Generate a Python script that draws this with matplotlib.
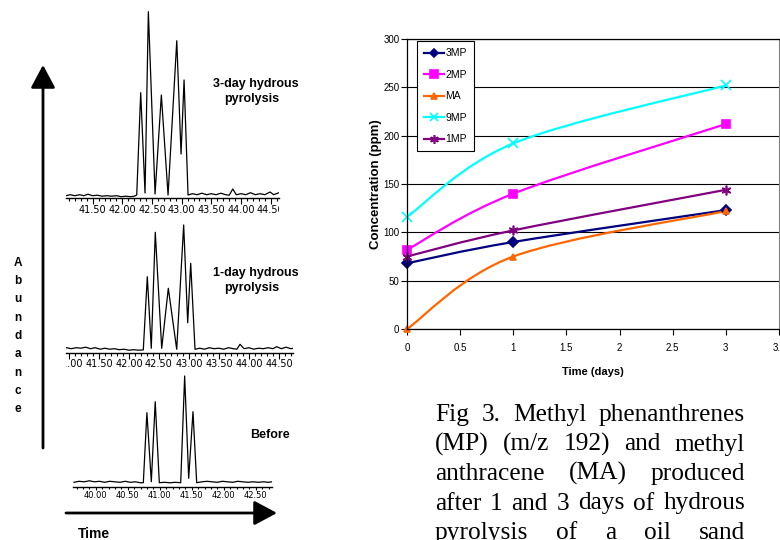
import numpy as np
import matplotlib
matplotlib.use("Agg")
import matplotlib.pyplot as plt
import matplotlib.transforms as mtransforms
from matplotlib.path import Path
from matplotlib.patches import PathPatch
from matplotlib.lines import Line2D
from matplotlib.ticker import MultipleLocator, FormatStrFormatter, FuncFormatter

plt.rcParams["font.family"] = ["Liberation Sans", "DejaVu Sans"]

# ---------------- data: concentration vs time (right panel) ----------------
days = [0, 1, 3]
series_names = ["3MP", "2MP", "MA", "9MP", "1MP"]
conc_3MP = [68, 90, 123]
conc_2MP = [82, 140, 212]
conc_MA = [0, 75, 122]
conc_9MP = [116, 192, 252]
conc_1MP = [75, 102, 144]
conc_ticks_y = [0, 50, 100, 150, 200, 250, 300]
conc_ticks_x = [0, 0.5, 1, 1.5, 2, 2.5, 3, 3.5]

# ---------------- data: chromatograms (left panel), retention time (min) vs abundance
rt_3day = [41.05, 41.12, 41.20, 41.28, 41.35, 41.42, 41.50, 41.58, 41.66, 41.74,
           41.82, 41.90, 41.98, 42.06, 42.14, 42.20, 42.242, 42.309, 42.382, 42.438,
           42.551, 42.657, 42.770, 42.917, 42.989, 43.040, 43.107, 43.18, 43.26, 43.34,
           43.42, 43.50, 43.58, 43.66, 43.74, 43.80, 43.861, 43.92, 44.00, 44.08,
           44.16, 44.24, 44.32, 44.40, 44.490, 44.55, 44.64]
ab_3day = [1, 2, 1, 2, 1, 2.5, 1, 1.5, 0.5, 1,
           0.5, 1, 0, 0.5, 0, 0.5, 1.7, 104, 3.7, 185,
           2.7, 101.7, 1.7, 156, 42.7, 116.7, 1.7, 3, 2, 3.5,
           2, 3, 2, 3.5, 2, 1.5, 7.7, 2, 3, 2,
           4, 2, 3, 2, 4.7, 2, 4]
ticks_3day = [41.5, 42.0, 42.5, 43.0, 43.5, 44.0, 44.5]

rt_1day = [40.96, 41.04, 41.12, 41.20, 41.28, 41.36, 41.44, 41.52, 41.60, 41.68,
           41.76, 41.84, 41.92, 42.00, 42.08, 42.16, 42.240, 42.307, 42.373, 42.440,
           42.547, 42.657, 42.797, 42.913, 42.980, 43.030, 43.102, 43.18, 43.26, 43.34,
           43.42, 43.50, 43.58, 43.66, 43.74, 43.80, 43.852, 43.92, 44.00, 44.08,
           44.16, 44.24, 44.32, 44.40, 44.463, 44.54, 44.62, 44.70, 44.74]
ab_1day = [3, 2, 3, 2.5, 3.5, 2, 3, 1.5, 2.5, 1.5,
           2, 1, 1.5, 0.5, 1, 0.5, 0.8, 74, 2.4, 118.4,
           2.4, 62.4, 1.4, 125.7, 28, 87.4, 1.4, 2.5, 1.5, 3,
           2, 2.5, 1.5, 3, 2, 1.5, 6.4, 2, 3, 1.5,
           2.5, 2, 3, 2, 4, 2, 3.5, 2, 2.5]
ticks_1day = [41.0, 41.5, 42.0, 42.5, 43.0, 43.5, 44.0, 44.5]

rt_before = [39.66, 39.74, 39.82, 39.90, 39.98, 40.06, 40.14, 40.22, 40.30, 40.38,
             40.46, 40.54, 40.62, 40.70, 40.744, 40.80, 40.869, 40.93, 40.994, 41.08,
             41.16, 41.24, 41.328, 41.39, 41.453, 41.52, 41.578, 41.66, 41.74, 41.82,
             41.90, 41.98, 42.06, 42.14, 42.22, 42.30, 42.38, 42.46, 42.54, 42.62,
             42.70, 42.75]
ab_before = [1, 2, 1.5, 2.5, 1.5, 2, 1, 2, 1.5, 1,
             2, 1, 1.5, 0.5, 0.6, 70.6, 1.6, 81.6, 0.6, 1,
             0.5, 1, 0.6, 107.3, 5, 71.6, 0.6, 1.5, 2, 1.5,
             1, 2, 1.5, 1, 2, 1.5, 1, 1.5, 1, 1.5,
             1, 1.5]
ticks_before = [40.0, 40.5, 41.0, 41.5, 42.0, 42.5]

caption_lines = ["Fig 3. Methyl phenanthrenes",
                 "(MP) (m/z 192) and methyl",
                 "anthracene (MA) produced",
                 "after 1 and 3 days of hydrous",
                 "pyrolysis of a oil sand"]

W, H = 780, 540
fig = plt.figure(figsize=(W / 100, H / 100), dpi=100)


def px_axes(x0, y0, x1, y1):
    # axes from pixel box (top-left origin)
    return fig.add_axes([x0 / W, 1 - y1 / H, (x1 - x0) / W, (y1 - y0) / H])


############# chromatograms #############
def chromatogram(box, rt, ab, xlim, ylim, ticks, lsize=7, tlen=4, pad=1):
    ax = px_axes(*box)
    ax.plot(rt, ab, color="black", lw=0.9)
    ax.patch.set_visible(False)
    for s in ["left", "right", "top"]:
        ax.spines[s].set_visible(False)
    ax.spines["bottom"].set_linewidth(1.0)
    ax.set_yticks([])
    ax.set_xticks(ticks)
    ax.set_xlim(xlim)
    ax.set_ylim(ylim)
    ax.xaxis.set_minor_locator(MultipleLocator(0.1))
    ax.xaxis.set_major_formatter(FormatStrFormatter("%.2f"))
    ax.tick_params(axis="x", which="major", length=tlen, width=0.8, pad=pad,
                   labelsize=lsize, labelfontfamily="DejaVu Sans")
    ax.tick_params(axis="x", which="minor", length=tlen * 0.6, width=0.8)
    # labels are cut at the ends of the time axis, like the original trace printout
    clip = mtransforms.TransformedBbox(mtransforms.Bbox.from_extents(0, -1, 1, 1), ax.transAxes)
    for lab in ax.get_xticklabels():
        lab.set_clip_box(clip)
        lab.set_clip_on(True)
    return ax


chromatogram((66, 8, 279, 198), rt_3day, ab_3day, (41.05, 44.64), (-1.3, 188.7), ticks_3day)
chromatogram((66, 220, 293.3, 352.7), rt_1day, ab_1day, (40.952, 44.74), (-2, 130.7), ticks_1day,
             pad=0.5)
chromatogram((73.3, 370, 271.7, 486.7), rt_before, ab_before, (39.65, 42.75), (-3.4, 113.3),
             ticks_before, lsize=6, tlen=2.5, pad=0.3)

############# concentration chart #############
axc = px_axes(407, 39, 779, 329)
colors = ["#000080", "#FF00FF", "#FF6600", "#00FFFF", "#800080"]
markers = ["D", "s", "^", "x", (6, 2, 0)]
msizes = [5, 6, 5, 7, 7]
all_conc = [conc_3MP, conc_2MP, conc_MA, conc_9MP, conc_1MP]


def smooth_path(x, y):
    pts = np.column_stack([x, y]).astype(float)
    ext = np.vstack([pts[0], pts, pts[-1]])
    verts = [pts[0]]
    codes = [Path.MOVETO]
    for i in range(len(pts) - 1):
        p0, p1, p2, p3 = ext[i], ext[i + 1], ext[i + 2], ext[i + 3]
        verts += [p1 + (p2 - p0) / 6, p2 - (p3 - p1) / 6, p2]
        codes += [Path.CURVE4] * 3
    return Path(verts, codes)


handles = []
for name, vals, c, m, ms in zip(series_names, all_conc, colors, markers, msizes):
    axc.add_patch(PathPatch(smooth_path(days, vals), fill=False, edgecolor=c, lw=1.6))
    axc.plot(days, vals, ls="none", marker=m, ms=ms, color=c, mec=c, mew=1.2, clip_on=False)
    handles.append(Line2D([], [], color=c, lw=1.6, marker=m, ms=ms * 0.9, mec=c, mew=1.2))

axc.set_xlim(0, 3.5)
axc.set_ylim(0, 300)
axc.set_xticks(conc_ticks_x)
axc.set_yticks(conc_ticks_y)
axc.xaxis.set_major_formatter(FuncFormatter(lambda v, p: f"{v:g}"))
axc.yaxis.grid(True, color="black", lw=0.8)
axc.set_axisbelow(True)
for s in ["left", "bottom", "top"]:
    axc.spines[s].set_color("black")
    axc.spines[s].set_linewidth(0.9)
axc.spines["right"].set_color("#808080")
axc.tick_params(axis="both", length=4, width=0.8, labelsize=7)
axc.tick_params(axis="x", pad=6)
axc.tick_params(axis="y", pad=1.5)
axc.set_xlabel("Time (days)", fontsize=8, fontweight="bold", labelpad=10)
axc.set_ylabel("Concentration (ppm)", fontsize=9.5, fontweight="bold")
axc.yaxis.set_label_coords(-0.066, 0.5)

leg = axc.legend(handles, series_names, loc="upper left", bbox_to_anchor=(0.027, 0.993),
                 fancybox=False, edgecolor="black", framealpha=1, borderaxespad=0,
                 prop={"size": 7.5}, handlelength=1.9,
                 handletextpad=0.1, labelspacing=1.1, borderpad=0.7)
leg.get_frame().set_linewidth(0.8)

############# overlay: arrows and labels #############
ov = px_axes(0, 0, W, H)
ov.set_xlim(0, W)
ov.set_ylim(H, 0)
ov.axis("off")
ov.set_zorder(10)

arrow_kw = dict(arrowstyle="-|>,head_length=1.4,head_width=0.75", color="black", lw=2,
                shrinkA=0, shrinkB=0, mutation_scale=10)
ov.annotate("", xy=(43, 65), xytext=(43, 448), arrowprops=arrow_kw)
ov.annotate("", xy=(277, 513), xytext=(66, 513), arrowprops=arrow_kw)

bold = dict(fontsize=9, fontweight="bold", ha="center", va="baseline")
ov.text(256, 87, "3-day hydrous", **bold)
ov.text(252, 102, "pyrolysis", **bold)
ov.text(256, 276, "1-day hydrous", **bold)
ov.text(252, 291, "pyrolysis", **bold)
ov.text(269.5, 438.5, "Before", **bold)
ov.text(78, 538, "Time", fontsize=10, fontweight="bold", ha="left", va="baseline")
ov.text(18, 336, "\n".join("Abundance"), fontsize=8.5, fontweight="bold",
        ha="center", va="center", linespacing=1.7)

# justified caption
renderer = fig.canvas.get_renderer()
cap_left, cap_right = 435, 745
for i, line in enumerate(caption_lines):
    y = 421 + i * 29.5
    words = line.split(" ")
    objs = [ov.text(0, y, w, fontsize=18.3, family="Liberation Serif", ha="left", va="baseline")
            for w in words]
    widths = [o.get_window_extent(renderer).width for o in objs]
    gap = (cap_right - cap_left - sum(widths)) / (len(words) - 1)
    x = cap_left
    for o, w in zip(objs, widths):
        o.set_x(x)
        x += w + gap

fig.savefig("out.png", dpi=100)
